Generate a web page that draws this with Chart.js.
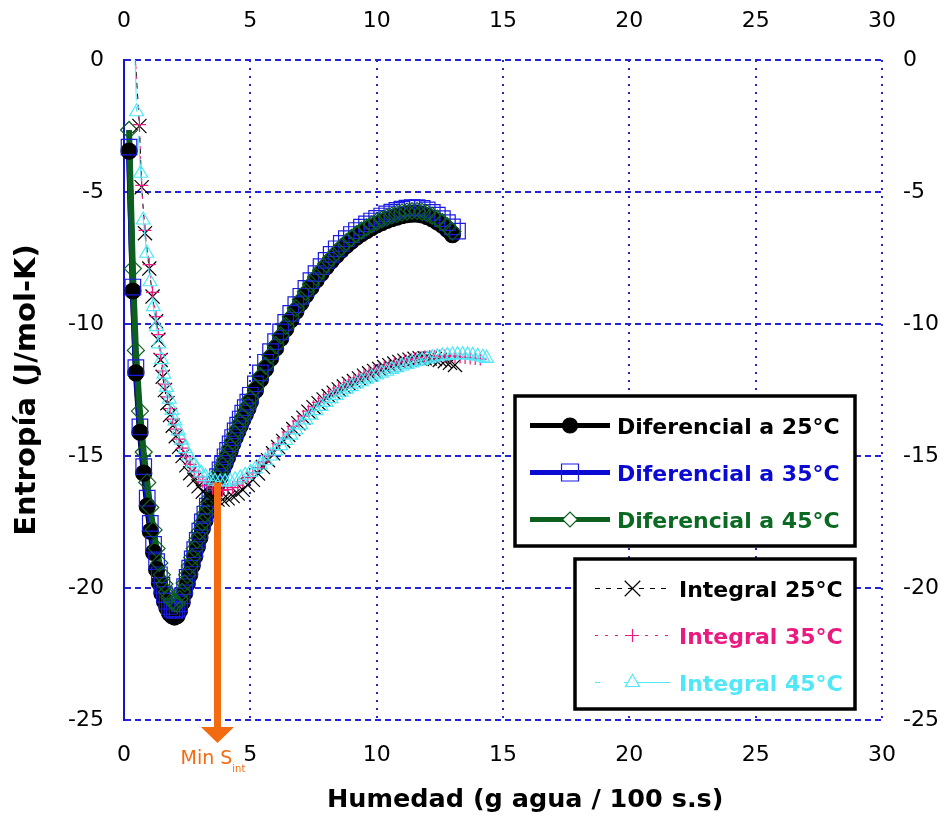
<!DOCTYPE html>
<html lang="es">
<head>
<meta charset="utf-8">
<title>Entropía diferencial e integral</title>
<script src="https://cdn.jsdelivr.net/npm/chart.js@4.4.1/dist/chart.umd.min.js"></script>
<style>
  html, body { margin: 0; padding: 0; background: #fff; }
  #grafica { display: block; }
</style>
</head>
<body>
<canvas id="grafica" width="948" height="825"></canvas>
<script>
// humedad (g agua / 100 g s.s) para las curvas diferenciales
const humDif = [0.2, 0.35, 0.47, 0.63, 0.78, 0.92, 1.04, 1.17, 1.29, 1.4, 1.5, 1.6, 1.7, 1.8, 1.9, 2.0,
  2.1, 2.2, 2.3, 2.4, 2.5, 2.6, 2.7, 2.8, 2.9, 3.0, 3.1, 3.2, 3.3, 3.4, 3.5, 3.6, 3.7, 3.8, 3.9, 4.0,
  4.1, 4.2, 4.3, 4.4, 4.5, 4.6, 4.7, 4.8, 4.9, 5.0,
  5.2, 5.4, 5.6, 5.8, 6.0, 6.2, 6.4, 6.6, 6.8, 7.0, 7.2, 7.4, 7.6, 7.8, 8.0, 8.2, 8.4, 8.6, 8.8, 9.0,
  9.2, 9.4, 9.6, 9.8, 10.0, 10.2, 10.4, 10.6, 10.8, 11.0, 11.2, 11.4, 11.6, 11.8, 12.0, 12.2, 12.4, 12.6, 12.8, 13.0, 13.2];

// entropía diferencial (J/mol-K)
const sDif25 = [-3.45, -8.75, -11.85, -14.1, -15.65, -16.9, -17.85, -18.65, -19.3, -19.8, -20.2, -20.5, -20.75, -20.95, -21.05, -21.1,
  -21.05, -20.85, -20.55, -20.2, -19.85, -19.5, -19.15, -18.8, -18.45, -18.1, -17.75, -17.45, -17.15, -16.85, -16.58, -16.32, -16.06, -15.8, -15.55, -15.3,
  -15.05, -14.8, -14.55, -14.3, -14.08, -13.85, -13.63, -13.42, -13.21, -12.95,
  -12.52, -12.1, -11.7, -11.3, -10.92, -10.55, -10.19, -9.85, -9.52, -9.2, -8.9, -8.61, -8.34, -8.08, -7.84, -7.61, -7.4, -7.2, -7.02, -6.86,
  -6.71, -6.58, -6.46, -6.35, -6.25, -6.16, -6.08, -6.01, -5.95, -5.9, -5.86, -5.84, -5.84, -5.87, -5.93, -6.02, -6.13, -6.26, -6.42, -6.62];

const sDif35 = [-3.3, -8.6, -11.65, -13.9, -15.4, -16.6, -17.55, -18.35, -19.0, -19.5, -19.9, -20.25, -20.5, -20.7, -20.8, -20.85,
  -20.8, -20.6, -20.3, -19.95, -19.6, -19.25, -18.9, -18.55, -18.2, -17.85, -17.5, -17.2, -16.9, -16.6, -16.35, -16.07, -15.78, -15.53, -15.28, -15.03,
  -14.79, -14.54, -14.3, -14.05, -13.83, -13.6, -13.38, -13.17, -12.96, -12.7,
  -12.27, -11.85, -11.45, -11.05, -10.67, -10.3, -9.94, -9.6, -9.27, -8.95, -8.65, -8.36, -8.09, -7.83, -7.59, -7.36, -7.15, -6.95, -6.77, -6.61,
  -6.46, -6.33, -6.21, -6.1, -6.0, -5.91, -5.83, -5.76, -5.7, -5.65, -5.61, -5.59, -5.59, -5.62, -5.68, -5.77, -5.88, -6.01, -6.16, -6.32, -6.48];

const sDif45 = [-2.65, -7.9, -11.0, -13.3, -14.85, -16.0, -16.95, -17.8, -18.5, -19.05, -19.5, -19.85, -20.15, -20.35, -20.5, -20.58,
  -20.6, -20.42, -20.15, -19.82, -19.5, -19.17, -18.84, -18.51, -18.18, -17.85, -17.52, -17.2, -16.9, -16.6, -16.33, -16.07, -15.82, -15.6, -15.37, -15.15,
  -14.91, -14.67, -14.42, -14.18, -13.96, -13.73, -13.51, -13.3, -13.09, -12.83,
  -12.4, -11.98, -11.58, -11.18, -10.8, -10.43, -10.07, -9.73, -9.4, -9.08, -8.78, -8.49, -8.22, -7.96, -7.72, -7.49, -7.28, -7.08, -6.9, -6.74,
  -6.59, -6.46, -6.34, -6.23, -6.13, -6.04, -5.96, -5.89, -5.83, -5.78, -5.74, -5.72, -5.72, -5.75, -5.81, -5.9, -6.01, -6.14, -6.3, -6.5];

// humedad para las curvas integrales a 25 y 35 °C
const humInt = [0.4, 0.61, 0.7, 0.83, 1.0, 1.13, 1.27, 1.36, 1.45, 1.53, 1.62, 1.72, 1.82, 1.93, 2.05, 2.18, 2.32, 2.47, 2.62, 2.78, 2.95, 3.12, 3.3,
  3.5, 3.7, 3.9, 4.1, 4.3, 4.5, 4.7, 4.9, 5.1, 5.3, 5.5, 5.7, 5.9, 6.1, 6.3, 6.5, 6.7, 6.9, 7.1, 7.3, 7.5, 7.7, 7.9, 8.1, 8.3,
  8.5, 8.7, 8.9, 9.1, 9.3, 9.5, 9.7, 9.9, 10.1, 10.3, 10.5, 10.7, 10.9, 11.1, 11.3, 11.5, 11.7, 11.9, 12.1, 12.3, 12.5, 12.7,
  12.9, 13.1, 13.3, 13.5, 13.7, 13.9, 14.1];

// entropía integral (J/mol-K)
const sInt25 = [0.8, -2.5, -4.82, -6.56, -7.9, -8.96, -9.9, -10.6, -11.36, -12.0, -12.5, -13.0, -13.45, -13.85, -14.25, -14.65, -15.0, -15.35, -15.65, -15.9, -16.15, -16.35, -16.5,
  -16.58, -16.65, -16.65, -16.6, -16.52, -16.42, -16.28, -16.1, -15.9, -15.66, -15.42, -15.16, -14.9, -14.66, -14.43, -14.2, -13.98, -13.76, -13.55, -13.32, -13.15, -13.0, -12.86, -12.73, -12.6,
  -12.48, -12.37, -12.26, -12.16, -12.06, -11.96, -11.87, -11.78, -11.7, -11.63, -11.56, -11.5, -11.44, -11.39, -11.35, -11.32, -11.3, -11.3, -11.31, -11.33, -11.36, -11.41,
  -11.47, -11.55];

const sInt35 = [0.9, -2.45, -4.75, -6.45, -7.75, -8.8, -9.72, -10.4, -11.15, -11.78, -12.28, -12.76, -13.2, -13.6, -13.98, -14.36, -14.7, -15.03, -15.32, -15.57, -15.8, -15.98, -16.12,
  -16.22, -16.28, -16.3, -16.27, -16.2, -16.1, -15.97, -15.82, -15.64, -15.44, -15.22, -14.99, -14.76, -14.53, -14.31, -14.09, -13.88, -13.68, -13.49, -13.3, -13.13, -12.97, -12.82, -12.68, -12.55,
  -12.43, -12.32, -12.22, -12.12, -12.03, -11.94, -11.86, -11.78, -11.71, -11.64, -11.57, -11.51, -11.45, -11.4, -11.35, -11.31, -11.28, -11.25, -11.23, -11.22, -11.21, -11.21,
  -11.22, -11.23, -11.25, -11.27, -11.29, -11.31, -11.33];

// humedad y entropía integral a 45 °C
const humInt45 = [0.4, 0.5, 0.66, 0.76, 0.9, 1.03, 1.16, 1.28, 1.38, 1.48, 1.58, 1.68, 1.79, 1.9, 2.02, 2.15, 2.28, 2.42, 2.57, 2.72, 2.88, 3.05, 3.22, 3.4,
  3.6, 3.8, 4.0, 4.2, 4.4, 4.6, 4.8, 5.0, 5.2, 5.4, 5.6, 5.8, 6.0, 6.2, 6.4, 6.6, 6.8, 7.0, 7.2, 7.4, 7.6, 7.8, 8.0, 8.2, 8.4,
  8.6, 8.8, 9.0, 9.2, 9.4, 9.6, 9.8, 10.0, 10.2, 10.4, 10.6, 10.8, 11.0, 11.2, 11.4, 11.6, 11.8, 12.0, 12.2, 12.4, 12.6,
  12.8, 13.0, 13.2, 13.4, 13.6, 13.8, 14.0, 14.2, 14.35];

const sInt45 = [1.3, -1.96, -4.29, -6.06, -7.32, -8.4, -9.34, -10.1, -10.75, -11.35, -11.9, -12.4, -12.85, -13.27, -13.67, -14.05, -14.4, -14.72, -15.0, -15.25, -15.46, -15.64, -15.78, -15.88,
  -15.95, -15.98, -15.98, -15.95, -15.9, -15.83, -15.73, -15.62, -15.49, -15.34, -15.18, -15.0, -14.81, -14.61, -14.41, -14.21, -14.01, -13.82, -13.63, -13.45, -13.28, -13.12, -12.97, -12.83, -12.7,
  -12.58, -12.47, -12.37, -12.27, -12.18, -12.09, -12.01, -11.93, -11.86, -11.79, -11.72, -11.65, -11.59, -11.53, -11.47, -11.42, -11.37, -11.32, -11.28, -11.24, -11.21,
  -11.19, -11.17, -11.16, -11.16, -11.17, -11.19, -11.22, -11.26, -11.3];

const nombresDif = ['Diferencial a 25°C', 'Diferencial a 35°C', 'Diferencial a 45°C'];
const nombresInt = ['Integral 25°C', 'Integral 35°C', 'Integral 45°C'];

// mínimo de la entropía integral señalado con la flecha
const minInt = { x: 3.7, y: -16.0 };

const negro = '#000000';
const azul = '#0a0ad2';
const verde = '#0c5f1f';
const verdeTexto = '#0b6a22';
const rosa = '#ea1a80';
const cian = '#50e8f6';
const naranja = '#f26b10';
const rejilla = '#2424d4';

const FUENTE = 'DejaVu Sans';

const serie = (xs, ys) => ys.map((y, i) => ({ x: xs[i], y: y }));

const lineaDif = (datos, color) => ({
  data: datos, showLine: true, borderColor: color, borderWidth: 6,
  pointRadius: 0, pointHoverRadius: 0
});

const marcasDif = (datos, estilo, radio, borde, relleno) => ({
  data: datos, showLine: false, clip: false,
  pointStyle: estilo, pointRadius: radio, pointHoverRadius: radio,
  pointBorderColor: borde, pointBackgroundColor: relleno, pointBorderWidth: 1.2
});

const curvaInt = (datos, color, guiones, estilo, radio) => ({
  data: datos, showLine: true, borderColor: color, borderWidth: 1, borderDash: guiones,
  pointStyle: estilo, pointRadius: radio, pointHoverRadius: radio,
  pointBorderColor: color, pointBackgroundColor: 'rgba(0,0,0,0)', pointBorderWidth: 1.2
});

const guiones25 = [5, 6];
const guiones35 = [3, 7];
const guiones45 = [5, 24, 46, 6];

// el primer conjunto se dibuja encima
const conjuntos = [
  curvaInt(serie(humInt45, sInt45), cian, guiones45, 'triangle', 8),
  curvaInt(serie(humInt, sInt35), rosa, guiones35, 'cross', 6.5),
  curvaInt(serie(humInt, sInt25), negro, guiones25, 'crossRot', 10),
  marcasDif(serie(humDif, sDif45), 'rectRot', 8.5, verde, 'rgba(0,0,0,0)'),
  marcasDif(serie(humDif, sDif35), 'rect', 11, '#1a1ae6', 'rgba(0,0,0,0)'),
  marcasDif(serie(humDif, sDif25), 'circle', 8, negro, negro),
  lineaDif(serie(humDif, sDif45), verde),
  lineaDif(serie(humDif, sDif35), azul),
  lineaDif(serie(humDif, sDif25), negro)
];

const flechaMinimo = {
  id: 'flechaMinimo',
  afterDatasetsDraw(chart) {
    const { ctx, chartArea, scales } = chart;
    const x = scales.x.getPixelForValue(minInt.x);
    const yTop = scales.y.getPixelForValue(minInt.y);
    const base = chartArea.bottom + 7;
    const punta = chartArea.bottom + 23;
    ctx.save();
    ctx.strokeStyle = naranja;
    ctx.fillStyle = naranja;
    ctx.lineWidth = 7;
    ctx.beginPath();
    ctx.moveTo(x, yTop);
    ctx.lineTo(x, base + 2);
    ctx.stroke();
    ctx.beginPath();
    ctx.moveTo(x - 16.5, base);
    ctx.lineTo(x + 16.5, base);
    ctx.lineTo(x, punta);
    ctx.closePath();
    ctx.fill();
    ctx.textBaseline = 'alphabetic';
    ctx.textAlign = 'left';
    ctx.font = '19px "' + FUENTE + '"';
    const tx = x - 37;
    ctx.fillText('Min S', tx, chartArea.bottom + 44);
    const w = ctx.measureText('Min S').width;
    ctx.font = '10px "' + FUENTE + '"';
    ctx.fillText('int', tx + w, chartArea.bottom + 52);
    ctx.restore();
  }
};

function cajaLeyenda(ctx, caja, filas) {
  ctx.save();
  ctx.fillStyle = '#ffffff';
  ctx.fillRect(caja.x, caja.y, caja.w, caja.h);
  ctx.strokeStyle = '#000000';
  ctx.lineWidth = 3.5;
  ctx.strokeRect(caja.x, caja.y, caja.w, caja.h);
  filas.forEach((f, i) => {
    const y = caja.fila0 + i * caja.paso;
    ctx.save();
    ctx.strokeStyle = f.linea;
    ctx.lineWidth = f.grosor;
    ctx.setLineDash(f.guiones || []);
    ctx.beginPath();
    ctx.moveTo(caja.l0, y);
    ctx.lineTo(caja.l1, y);
    ctx.stroke();
    ctx.restore();
    ctx.save();
    ctx.strokeStyle = f.borde;
    ctx.fillStyle = f.relleno;
    ctx.lineWidth = 1.2;
    Chart.helpers.drawPoint(ctx, { pointStyle: f.estilo, radius: f.radio, rotation: 0, borderWidth: 1.2 },
      (caja.l0 + caja.l1) / 2, y);
    ctx.restore();
    ctx.fillStyle = f.texto;
    ctx.font = 'bold 22px "' + FUENTE + '"';
    ctx.textBaseline = 'alphabetic';
    ctx.textAlign = 'left';
    ctx.fillText(f.nombre, caja.tx, y + 8.5);
  });
  ctx.restore();
}

const leyendas = {
  id: 'leyendas',
  afterDraw(chart) {
    const ctx = chart.ctx;
    cajaLeyenda(ctx, { x: 515, y: 396, w: 340, h: 150, fila0: 425.5, paso: 47, l0: 530, l1: 610, tx: 617 }, [
      { nombre: nombresDif[0], texto: negro, linea: negro, grosor: 5, estilo: 'circle', radio: 7.5, borde: negro, relleno: negro },
      { nombre: nombresDif[1], texto: azul, linea: azul, grosor: 5, estilo: 'rect', radio: 12, borde: '#1a1ae6', relleno: 'rgba(0,0,0,0)' },
      { nombre: nombresDif[2], texto: verdeTexto, linea: verde, grosor: 5, estilo: 'rectRot', radio: 7.5, borde: verde, relleno: '#ffffff' }
    ]);
    cajaLeyenda(ctx, { x: 575, y: 559, w: 280, h: 150, fila0: 588.5, paso: 47, l0: 595, l1: 670, tx: 679 }, [
      { nombre: nombresInt[0], texto: negro, linea: negro, grosor: 1, guiones: guiones25, estilo: 'crossRot', radio: 11, borde: negro, relleno: 'rgba(0,0,0,0)' },
      { nombre: nombresInt[1], texto: rosa, linea: rosa, grosor: 1, guiones: guiones35, estilo: 'cross', radio: 6.5, borde: rosa, relleno: 'rgba(0,0,0,0)' },
      { nombre: nombresInt[2], texto: cian, linea: cian, grosor: 1, guiones: guiones45, estilo: 'triangle', radio: 8, borde: cian, relleno: '#ffffff' }
    ]);
  }
};

const fuenteTicks = { family: FUENTE, size: 22 };

new Chart(document.getElementById('grafica'), {
  type: 'scatter',
  data: { datasets: conjuntos },
  options: {
    responsive: false,
    animation: false,
    devicePixelRatio: 1,
    layout: { padding: 0 },
    plugins: { legend: { display: false }, tooltip: { enabled: false } },
    scales: {
      x: {
        type: 'linear', position: 'bottom', min: 0, max: 30,
        ticks: { stepSize: 5, padding: 22, color: negro, font: fuenteTicks },
        grid: { color: rejilla, lineWidth: 2, drawTicks: false },
        border: { display: false, dash: [2, 6] },
        title: { display: true, text: '     Humedad (g agua / 100 s.s)', color: negro,
          font: { family: FUENTE, size: 25.5, weight: 'bold' }, padding: { top: 0, bottom: 9 } },
        afterFit: (s) => { s.height = 105; }
      },
      xArriba: {
        type: 'linear', axis: 'x', position: 'top', min: 0, max: 30,
        ticks: { stepSize: 5, padding: 26, color: negro, font: fuenteTicks },
        grid: { display: false, drawTicks: false },
        border: { display: false },
        afterFit: (s) => { s.height = 60; }
      },
      y: {
        type: 'linear', position: 'left', min: -25, max: 0,
        ticks: { stepSize: 5, padding: 20, color: negro, font: fuenteTicks },
        grid: { color: rejilla, lineWidth: 2, drawTicks: false },
        border: { display: true, color: '#1414c8', width: 2, dash: [6, 4] },
        title: { display: true, text: 'Entropía (J/mol-K)', color: negro,
          font: { family: FUENTE, size: 29, weight: 'bold' }, padding: { top: 10, bottom: 0 } },
        afterFit: (s) => { s.width = 124; }
      },
      yDerecha: {
        type: 'linear', axis: 'y', position: 'right', min: -25, max: 0,
        ticks: { stepSize: 5, padding: 21, color: negro, font: fuenteTicks },
        grid: { display: false, drawTicks: false },
        border: { display: false },
        afterFit: (s) => { s.width = 66; }
      }
    }
  },
  plugins: [flechaMinimo, leyendas]
});
</script>
</body>
</html>
